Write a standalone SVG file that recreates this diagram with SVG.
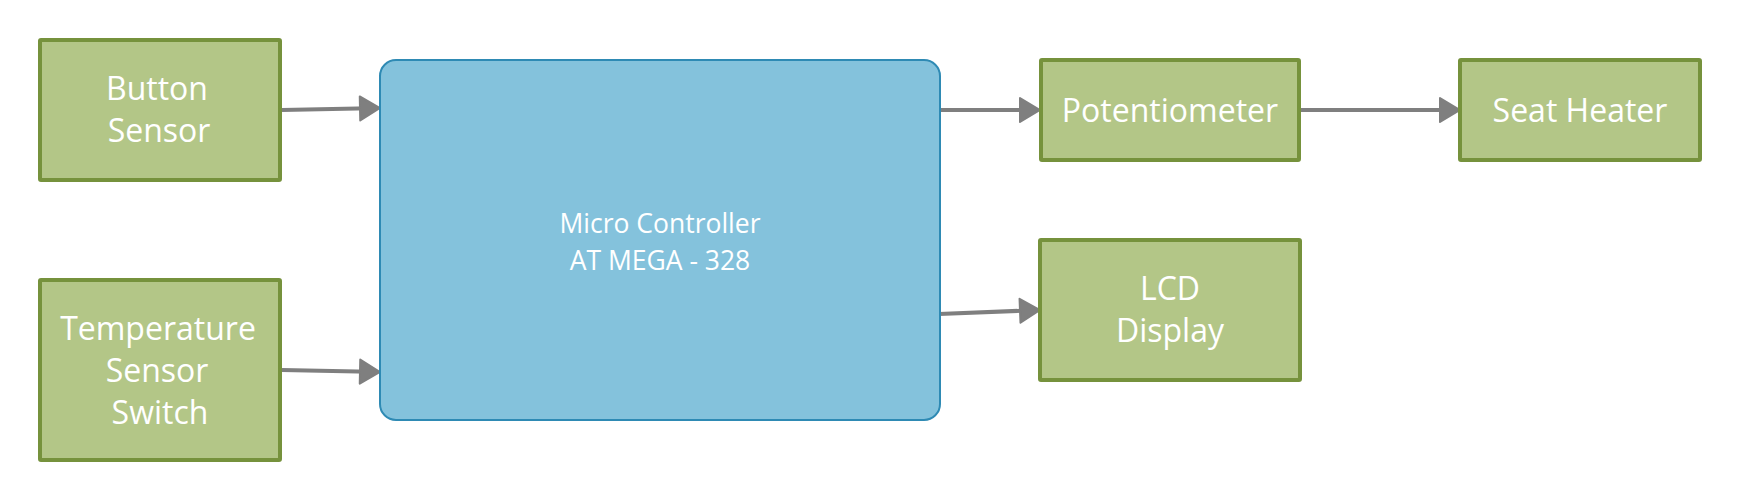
<svg xmlns="http://www.w3.org/2000/svg" width="1740" height="501" viewBox="0 0 1740 501">
  <style>
    .g { fill: #B3C687; stroke: #76923C; stroke-width: 4; }
    .b { fill: #84C2DC; stroke: #2E8AB4; stroke-width: 2; }
    .t { fill: #FFFFFF; font-family: "Open Sans", "Noto Sans", "Liberation Sans", sans-serif; font-size: 32px; text-anchor: middle; }
    .tm { font-size: 26.5px; }
    .c { fill: none; stroke: #7F7F7F; stroke-width: 4; }
  </style>
  <defs>
    <marker id="arr" markerUnits="userSpaceOnUse" markerWidth="26" markerHeight="30" viewBox="-2 -3 26 30" refX="10" refY="12" orient="auto">
      <path d="M0,0 L20,12 L0,24 Z" fill="#7F7F7F" stroke="#7F7F7F" stroke-width="2" stroke-linejoin="round"/>
    </marker>
  </defs>
  <rect width="1740" height="501" fill="#FFFFFF"/>
  <g id="connectors">
    <path class="c" d="M282,110 L370,108.2" marker-end="url(#arr)"/>
    <path class="c" d="M282,370 L370,371.8" marker-end="url(#arr)"/>
    <path class="c" d="M939,110 L1030,110" marker-end="url(#arr)"/>
    <path class="c" d="M1300,110 L1450,110" marker-end="url(#arr)"/>
    <path class="c" d="M939,314 L1030,310.4" marker-end="url(#arr)"/>
  </g>
  <g id="button-sensor">
    <rect class="g" x="40" y="40" width="240" height="140" rx="1"/>
    <text class="t" x="157" y="100">Button</text>
    <text class="t" x="159" y="142">Sensor</text>
  </g>
  <g id="temperature-sensor-switch">
    <rect class="g" x="40" y="280" width="240" height="180" rx="1"/>
    <text class="t" x="158" y="340">Temperature</text>
    <text class="t" x="157" y="382">Sensor</text>
    <text class="t" x="160" y="424">Switch</text>
  </g>
  <g id="micro-controller">
    <rect class="b" x="380" y="60" width="560" height="360" rx="16"/>
    <text class="t tm" x="660" y="233">Micro Controller</text>
    <text class="t tm" x="660" y="270">AT MEGA - 328</text>
  </g>
  <g id="potentiometer">
    <rect class="g" x="1041" y="60" width="258" height="100" rx="1"/>
    <text class="t" x="1170" y="122">Potentiometer</text>
  </g>
  <g id="seat-heater">
    <rect class="g" x="1460" y="60" width="240" height="100" rx="1"/>
    <text class="t" x="1580" y="122">Seat Heater</text>
  </g>
  <g id="lcd-display">
    <rect class="g" x="1040" y="240" width="260" height="140" rx="1"/>
    <text class="t" x="1170" y="300">LCD</text>
    <text class="t" x="1170" y="342">Display</text>
  </g>
</svg>
